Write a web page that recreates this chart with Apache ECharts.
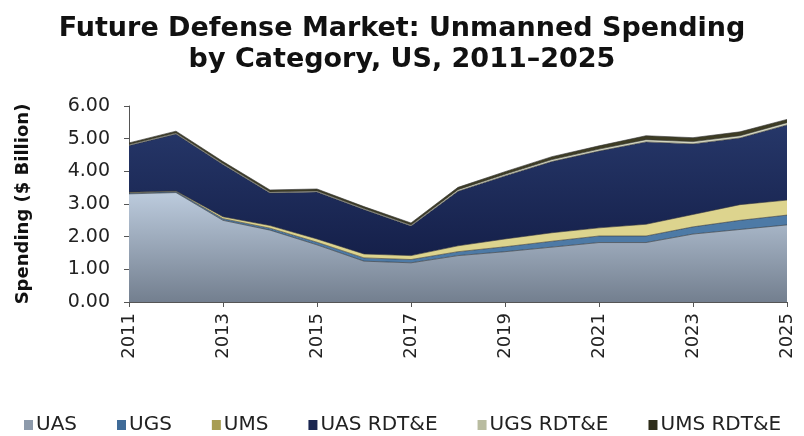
<!DOCTYPE html>
<html><head><meta charset="utf-8">
<script src="https://cdn.jsdelivr.net/npm/echarts@6/dist/echarts.min.js"></script>
<style>html,body{margin:0;padding:0;background:#fff}#c{width:804px;height:436px}</style>
</head><body><div id="c"></div>
<script>
var years = ['2011','2012','2013','2014','2015','2016','2017','2018','2019','2020','2021','2022','2023','2024','2025'];
var uas     = [3.31,3.35,2.50,2.20,1.75,1.25,1.20,1.42,1.54,1.68,1.82,1.82,2.08,2.22,2.36];
var ugs     = [0.03,0.03,0.05,0.06,0.08,0.10,0.10,0.12,0.15,0.18,0.20,0.20,0.22,0.28,0.30];
var ums     = [0.02,0.02,0.06,0.08,0.10,0.12,0.12,0.18,0.24,0.26,0.25,0.36,0.38,0.48,0.46];
var uasRdte = [1.43,1.74,1.60,1.00,1.44,1.36,0.91,1.67,1.93,2.18,2.35,2.52,2.16,2.04,2.30];
var ugsRdte = [0.03,0.03,0.03,0.03,0.03,0.03,0.03,0.05,0.05,0.06,0.06,0.07,0.07,0.07,0.07];
var umsRdte = [0.05,0.06,0.06,0.06,0.06,0.06,0.06,0.07,0.08,0.09,0.10,0.12,0.12,0.12,0.10];
var yTicks = ['0.00','1.00','2.00','3.00','4.00','5.00','6.00'];

function grad(a,b){return new echarts.graphic.LinearGradient(0,0,0,1,[{offset:0,color:a},{offset:1,color:b}]);}
var defs = [
  ['UAS', uas, grad('#bccbdd','#737f8f'), '#8d9aab'],
  ['UGS', ugs, '#4d7aa6', '#3f6b98'],
  ['UMS', ums, '#ddd48e', '#a89d52'],
  ['UAS RDT&E', uasRdte, grad('#263769','#15204a'), '#1a2650'],
  ['UGS RDT&E', ugsRdte, '#d4d7c0', '#b9bca0'],
  ['UMS RDT&E', umsRdte, '#3d3c24', '#2e2d1a']
];
var series = defs.map(function(d){
  return {name:d[0], type:'line', stack:'all', data:d[1], symbol:'none',
    lineStyle:{width:0.6,color:'#333'}, areaStyle:{color:d[2],opacity:1},
    itemStyle:{color:d[3]}};
});
var chart = echarts.init(document.getElementById('c'));
chart.setOption({
  animation:false,
  title:{text:'Future Defense Market: Unmanned Spending\nby Category, US, 2011\u20132025', left:'center', top:8,
    textStyle:{fontFamily:'DejaVu Sans',fontWeight:'bold',fontSize:27,lineHeight:31,color:'#111'}},
  grid:{left:129,right:17,top:106,bottom:134},
  legend:{top:415,left:24,width:790,padding:0,itemWidth:9,itemHeight:10,itemGap:40,icon:'rect',
    textStyle:{fontFamily:'DejaVu Sans',fontSize:20,color:'#222',padding:[0,0,0,-2]}},
  xAxis:{type:'category',data:years,boundaryGap:false,
    axisLine:{lineStyle:{color:'#555'}},axisTick:{show:true,alignWithLabel:true,lineStyle:{color:'#555'}},
    axisLabel:{interval:1,rotate:90,fontFamily:'DejaVu Sans',fontSize:18,color:'#222',margin:11}},
  yAxis:{type:'value',min:0,max:6,interval:1,
    name:'Spending ($ Billion)',nameLocation:'middle',nameGap:97,nameRotate:90,
    nameTextStyle:{fontFamily:'DejaVu Sans',fontWeight:'bold',fontSize:18,color:'#111'},
    axisLine:{show:true,lineStyle:{color:'#555'}},axisTick:{show:true,lineStyle:{color:'#555'}},
    splitLine:{show:false},
    axisLabel:{fontFamily:'DejaVu Sans',fontSize:19,color:'#222',margin:19,
      formatter:function(v){return yTicks[Math.round(v)];}}},
  series:series
});
</script></body></html>
